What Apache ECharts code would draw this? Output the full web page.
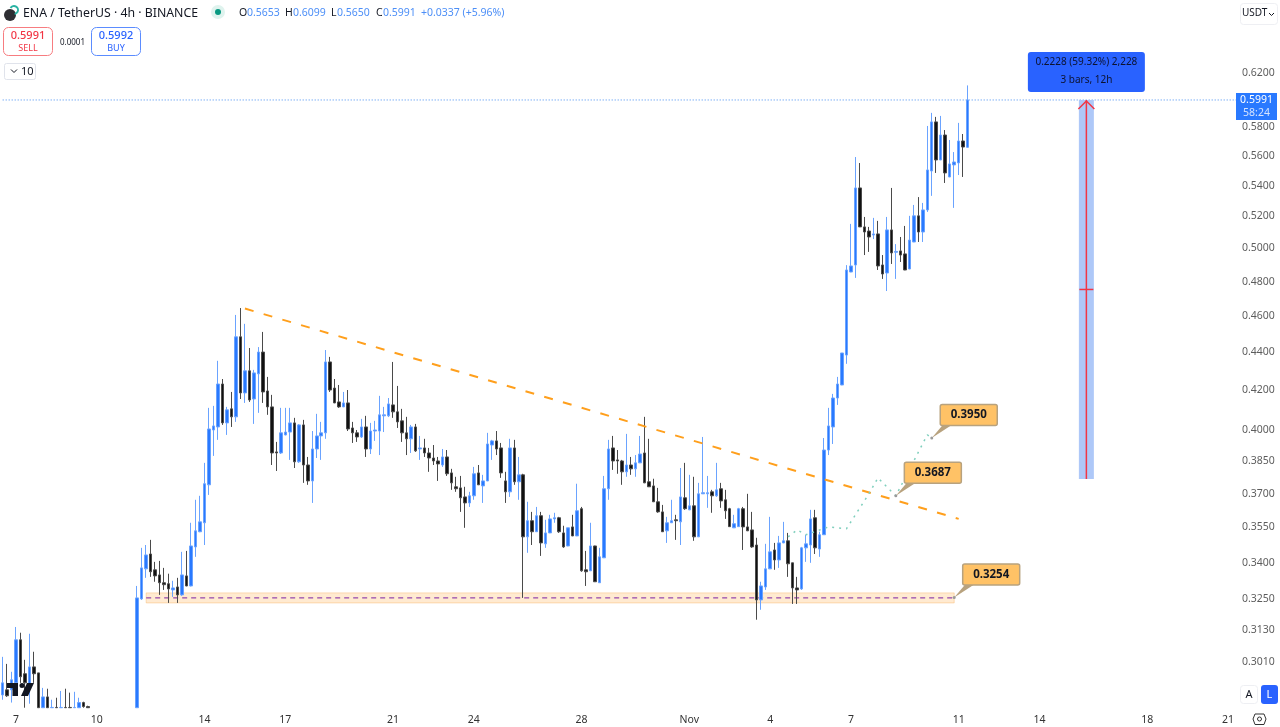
<!DOCTYPE html>
<html>
<head>
<meta charset="utf-8">
<style>html,body{margin:0;padding:0;background:#fff}#c{width:1280px;height:727px}</style>
<script src="https://cdn.jsdelivr.net/npm/echarts@6/dist/echarts.min.js"></script>
</head>
<body>
<div id="c"></div>
<script>
const opens = [
.2887,.2905,.2905,.2930,.3089,.2963,.2916,.2988,.2966,.2842,.2880,.2842,.2843,.2842,.2843,.2843,.2842,.2842,.2860,.2846,
null,null,null,null,null,null,null,null,null,null,
.2842,.3248,.3370,.3432,.3366,.3345,.3313,.3309,.3284,.3296,
.3264,.3341,.3300,.3462,.3527,.3566,.3736,.3996,.4011,.4228,
.4031,.4101,.4061,.4480,.4182,.4297,.4151,.4281,.4397,.4192,
.4111,.3890,.3885,.3972,.3986,.4031,.3843,.4021,.3828,.3754,
.3904,.3967,.3982,.4344,.4207,.4136,.4111,.4131,.4006,.3982,
.3962,.4011,.3904,.3991,.3991,.4066,.4066,.4121,.4086,.4041,
.3982,.3953,.4011,.3904,.3909,.3885,.3861,.3847,.3828,.3866,
.3791,.3727,.3722,.3681,.3654,.3686,.3791,.3731,.3754,.3923,
.3943,.3909,.3754,.3704,.3909,.3750,.3782,.3505,.3575,.3527,
.3597,.3475,.3522,.3583,.3588,.3522,.3466,.3548,.3509,.3628,
.3366,.3362,.3466,.3313,.3416,.3718,.3909,.3852,.3847,.3796,
.3828,.3810,.3838,.3885,.3750,.3731,.3659,.3614,.3531,.3566,
.3579,.3570,.3677,.3623,.3641,.3505,.3695,.3695,.3704,.3686,
.3718,.3668,.3628,.3544,.3549,.3628,.3548,.3535,.3470,.3244,
.3296,.3370,.3449,.3407,.3479,.3488,.3395,.3292,.3288,.3458,
.3470,.3588,.3453,.3514,.3899,.4011,.4156,.4223,.4381,.4851,
.4893,.5378,.5127,.5101,.5076,.5083,.4893,.4845,.5108,.4970,
.4978,.4960,.4869,.5033,.5197,.5095,.5235,.5491,.5832,.5566,
.5739,.5451,.5532,.5546,.5697,.5653];
const highs = [
.3025,.2999,.2970,.3138,.3116,.3014,.3112,.3044,.2966,.2912,.2909,.2870,.2877,.2901,.2909,.2895,.2898,.2877,.2863,.2849,
null,null,null,null,null,null,null,null,null,null,
.3300,.3458,.3470,.3492,.3399,.3403,.3374,.3350,.3321,.3333,
.3441,.3445,.3566,.3668,.3686,.3838,.4106,.4116,.4350,.4254,
.4111,.4187,.4602,.4641,.4552,.4419,.4302,.4424,.4507,.4265,
.4172,.3938,.4106,.4106,.4106,.4056,.4025,.4046,.3866,.3991,
.4076,.4036,.4408,.4371,.4254,.4223,.4187,.4197,.4036,.3996,
.4051,.4066,.4031,.4041,.4167,.4111,.4156,.4344,.4218,.4101,
.4061,.4021,.4026,.3967,.3953,.3909,.3923,.3866,.3904,.3899,
.3810,.3773,.3777,.3727,.3704,.3819,.3828,.3782,.3982,.3948,
.3991,.3933,.3796,.3953,.3948,.3866,.3787,.3659,.3614,.3636,
.3614,.3579,.3601,.3610,.3592,.3553,.3544,.3601,.3741,.3636,
.3445,.3566,.3467,.3458,.3777,.3948,.3967,.3899,.3852,.3977,
.3866,.3875,.3967,.4061,.3953,.3764,.3722,.3645,.3592,.3668,
.3601,.3814,.3838,.3782,.3773,.3745,.3962,.3777,.3713,.3838,
.3745,.3713,.3632,.3601,.3632,.3636,.3695,.3614,.3501,.3317,
.3475,.3592,.3479,.3509,.3570,.3522,.3395,.3337,.3462,.3514,
.3623,.3623,.3527,.3957,.4106,.4177,.4265,.4392,.4892,.5146,
.5586,.5545,.5190,.5127,.5184,.5165,.4953,.5190,.5378,.5020,
.5064,.5133,.5197,.5267,.5318,.5280,.5803,.5897,.5868,.5875,
.5774,.5704,.5620,.5825,.5746,.6099];
const lows = [
.2870,.2880,.2860,.2895,.2930,.2842,.2856,.2930,.2842,.2842,.2842,.2842,.2842,.2842,.2842,.2842,.2842,.2842,.2842,.2842,
null,null,null,null,null,null,null,null,null,null,
.2842,.3244,.3333,.3337,.3317,.3264,.3284,.3232,.3256,.3232,
.3260,.3299,.3298,.3420,.3525,.3470,.3690,.3871,.3948,.4021,
.3972,.4011,.4036,.4151,.4131,.4136,.4026,.4081,.4131,.4071,
.3828,.3800,.3880,.3970,.3852,.3814,.3838,.3745,.3736,.3654,
.3861,.3852,.3953,.4187,.4130,.4106,.4110,.3991,.3933,.3938,
.3957,.3866,.3880,.3943,.3875,.3986,.4060,.4056,.4006,.3938,
.3875,.3885,.3890,.3852,.3866,.3796,.3828,.3754,.3819,.3777,
.3713,.3704,.3614,.3544,.3636,.3668,.3735,.3654,.3753,.3852,
.3875,.3768,.3654,.3681,.3736,.3668,.3252,.3437,.3470,.3526,
.3424,.3458,.3521,.3566,.3522,.3458,.3465,.3508,.3508,.3358,
.3300,.3361,.3316,.3312,.3415,.3668,.3805,.3787,.3736,.3773,
.3782,.3773,.3837,.3744,.3726,.3658,.3610,.3526,.3479,.3565,
.3492,.3470,.3623,.3622,.3488,.3504,.3694,.3632,.3610,.3681,
.3632,.3583,.3548,.3543,.3548,.3449,.3530,.3458,.3166,.3205,
.3284,.3369,.3366,.3374,.3478,.3337,.3228,.3228,.3284,.3399,
.3395,.3432,.3420,.3513,.3875,.3928,.4121,.4222,.4334,.4850,
.4816,.5126,.4953,.4972,.5051,.4863,.4810,.4739,.4899,.4810,
.4911,.4862,.4868,.5032,.5033,.5033,.5222,.5326,.5478,.5565,
.5411,.5450,.5248,.5464,.5451,.5650];
const closes = [
.2930,.2884,.2941,.3089,.2952,.2930,.2988,.2963,.2842,.2880,.2842,.2843,.2842,.2843,.2842,.2842,.2843,.2860,.2846,.2842,
null,null,null,null,null,null,null,null,null,null,
.3252,.3374,.3428,.3358,.3341,.3313,.3305,.3288,.3292,.3264,
.3345,.3300,.3466,.3531,.3570,.3741,.4001,.4016,.4228,.4031,
.4096,.4061,.4480,.4182,.4297,.4146,.4286,.4397,.4187,.4111,
.3885,.3885,.3982,.3986,.4031,.3843,.4021,.3828,.3754,.3904,
.3967,.3982,.4344,.4197,.4131,.4111,.4131,.4001,.3982,.3962,
.4011,.3904,.3991,.3996,.4071,.4071,.4126,.4086,.4036,.3982,
.3953,.4011,.3895,.3909,.3885,.3861,.3847,.3833,.3866,.3787,
.3745,.3718,.3677,.3654,.3686,.3787,.3736,.3754,.3928,.3943,
.3904,.3791,.3704,.3909,.3750,.3782,.3505,.3575,.3527,.3597,
.3479,.3522,.3583,.3588,.3527,.3462,.3544,.3509,.3619,.3362,
.3358,.3466,.3317,.3420,.3718,.3904,.3847,.3847,.3796,.3828,
.3810,.3838,.3880,.3745,.3727,.3659,.3614,.3527,.3566,.3575,
.3575,.3681,.3628,.3641,.3505,.3695,.3700,.3700,.3686,.3713,
.3663,.3619,.3549,.3562,.3628,.3548,.3531,.3462,.3244,.3300,
.3370,.3441,.3407,.3479,.3488,.3391,.3292,.3284,.3458,.3475,
.3583,.3458,.3514,.3899,.4016,.4156,.4228,.4392,.4863,.4887,
.5378,.5127,.5095,.5064,.5083,.4887,.4839,.5108,.4966,.4975,
.4953,.4863,.5045,.5197,.5095,.5235,.5498,.5832,.5566,.5739,
.5478,.5539,.5552,.5697,.5655,.5991];

// x-axis: 4h bars, category index 3 = 7 Oct 00:00
const BAR_COUNT = 285;
const categories = [];
for (let k = 0; k < BAR_COUNT; k++) categories.push('bar ' + k);
const xTickBars   = [3, 21, 45, 63, 87, 105, 129, 153, 171, 189, 213, 231, 255, 273];
const xTickLabels = ['7','10','14','17','21','24','28','Nov','4','7','11','14','18','21'];
const priceTicks = [.62,.58,.56,.54,.52,.50,.48,.46,.44,.42,.40,.385,.37,.355,.34,.325,.313,.301];
const PRICE_MIN = 0.2841, PRICE_MAX = 0.6773;

// drawings on the chart
const lastPrice = 0.5991;
const trendBars = [54, 213],  trendPrices = [0.4638, 0.3583];
const supportBars = [32, 212], supportMid = 0.3252, supportTop = 0.3272, supportBottom = 0.3232;
const pathBars   = [175, 177, 179, 184, 188, 193, 195, 199, 206, 207];
const pathPrices = [.3505, .3535, .3514, .3548, .3540, .3695, .3768, .3686, .3972, .3957];
const calloutBars   = [207, 199, 212];
const calloutPrices = [.3957, .3686, .3254];
const calloutLabels = ['0.3950', '0.3687', '0.3254'];
const measureBar = 241, measureFrom = 0.3763, measureTo = 0.5991;
const measureLines = ['0.2228 (59.32%) 2,228', '3 bars, 12h'];

const FONT = '"Noto Sans", "Open Sans", sans-serif';
const BLUE = '#2979ff', BLACK = '#111111';

function txt(text, x, y, size, fill, extra) {
  return {type:'text', z:100, silent:true, style:Object.assign({text, x, y, fill,
    font: (extra && extra.weight ? extra.weight + ' ' : '') + size + 'px ' + FONT,
    align:(extra && extra.align) || 'left', verticalAlign:'middle'})};
}
function box(x, y, w, h, r, fill, stroke, lw) {
  return {type:'rect', z:99, silent:true, shape:{x, y, width:w, height:h, r},
    style:{fill, stroke, lineWidth:lw === undefined ? 1 : lw}};
}
function chev(x, y, w, h, col) {
  return {type:'polyline', z:100, silent:true, shape:{points:[[x,y],[x+w/2,y+h],[x+w,y]]}, style:{stroke:col, fill:'none', lineWidth:1}};
}
const OHLC = [['O',239,'0.5653',247],['H',285,'0.6099',293],['L',331,'0.5650',337],['C',376,'0.5991',383]];
const headerBlue = '#4d8ff7';
const graphics = [
  {type:'circle', z:99, silent:true, shape:{cx:10,cy:15,r:6}, style:{fill:'#2e2e33'}},
  {type:'arc', z:100, silent:true, shape:{cx:14,cy:10,r:4,startAngle:-2.6,endAngle:1.4}, style:{stroke:'#2bb3a3',lineWidth:2,fill:'none'}},
  txt('ENA / TetherUS · 4h · BINANCE', 23, 13, 12.3, '#131722'),
  {type:'circle', z:99, silent:true, shape:{cx:218,cy:12,r:7}, style:{fill:'#dff3ee'}},
  {type:'circle', z:100, silent:true, shape:{cx:218,cy:12,r:3}, style:{fill:'#089981'}},
  box(3.5,27.5,49,28,5,'#fff','#f77c80'),
  txt('0.5991', 28, 36, 11, '#f23645', {align:'center',weight:500}),
  txt('SELL', 28, 48.5, 9, '#f23645', {align:'center'}),
  txt('0.0001', 60, 42.5, 8, '#131722'),
  box(91.5,27.5,49,28,5,'#fff','#5b8cff'),
  txt('0.5992', 116, 36, 11, '#2962ff', {align:'center',weight:500}),
  txt('BUY', 116, 48.5, 9, '#2962ff', {align:'center'}),
  box(4.5,63.5,31,16,2,'#fff','#e0e3eb'),
  chev(11,69.5,6,3,'#131722'),
  txt('10', 21, 71.5, 11, '#131722'),
  box(1240.5,3.5,37,21,3,'#fff','#eeeff3'),
  txt('USDT', 1242, 13.5, 10, '#131722'),
  chev(1269,13,5,2.5,'#131722'),
  box(1240.5,685.5,17,18,3,'#fff','#eeeff3'),
  txt('A', 1249, 695, 11, '#131722', {align:'center'}),
  box(1261,685,17,19,3,'#2962ff','#2962ff',0),
  txt('L', 1269.5, 695, 11, '#ffffff', {align:'center'}),
  {type:'polygon', z:100, silent:true, shape:{points:[[1255,714],[1264,714],[1266,719],[1264,724.5],[1255,724.5],[1253,719]]}, style:{fill:'none',stroke:'#333',lineWidth:1}},
  {type:'circle', z:100, silent:true, shape:{cx:1259.5,cy:719,r:2}, style:{fill:'none',stroke:'#333',lineWidth:1}},
  // price tag
  box(1236,93,41,27,0,BLUE,BLUE,0),
  txt('0.5991', 1256.5, 100.5, 10.5, '#ffffff', {align:'center'}),
  txt('58:24', 1256.5, 113, 10.5, '#d6e4ff', {align:'center'}),
  // watermark
  {type:'polygon', z:100, silent:true, shape:{points:[[7,683],[18,683],[18,696],[12.5,696],[12.5,688],[7,688]]}, style:{fill:'#131722'}},
  {type:'circle', z:100, silent:true, shape:{cx:22,cy:685.5,r:2.5}, style:{fill:'#131722'}},
  {type:'polygon', z:100, silent:true, shape:{points:[[27,683],[34,683],[28,696],[21,696]]}, style:{fill:'#131722'}}
];
OHLC.forEach(function (o) {
  graphics.push(txt(o[0], o[1], 13, 10.5, '#131722'));
  graphics.push(txt(o[2], o[3], 13, 10.5, headerBlue));
});
graphics.push(txt('+0.0337 (+5.96%)', 421, 13, 10.5, headerBlue));

const candleData = opens.map(function (o, k) {
  return o === null ? ['-','-','-','-'] : [o, closes[k], lows[k], highs[k]];
});
function pairs(xs, ys) { return xs.map(function (x, k) { return [x, ys[k]]; }); }

const option = {
  animation:false,
  backgroundColor:'#ffffff',
  textStyle:{fontFamily:FONT},
  grid:{left:0.28, top:0, width:BAR_COUNT*4.489, height:708, containLabel:false},
  xAxis:{
    type:'category', data:categories, boundaryGap:true,
    axisLine:{show:false}, axisTick:{show:false}, splitLine:{show:false},
    axisLabel:{
      show:true, margin:7, color:'#333', fontSize:10.5, fontFamily:FONT,
      interval:function (idx) { return xTickBars.indexOf(idx) >= 0; },
      formatter:function (v, idx) { const k = xTickBars.indexOf(idx); return k >= 0 ? xTickLabels[k] : ''; }
    }
  },
  yAxis:{type:'log', logBase:10, min:PRICE_MIN, max:PRICE_MAX, show:false, splitLine:{show:false}},
  graphic:graphics,
  series:[
    {
      name:'support', type:'line', z:1, silent:true, showSymbol:false,
      data:[[supportBars[0],supportMid],[supportBars[1],supportMid]],
      lineStyle:{color:'#7b1fa2', width:1, type:[5,4]},
      markArea:{silent:true, itemStyle:{color:'rgba(255,180,90,0.28)', borderColor:'rgba(250,190,120,0.5)', borderWidth:1},
        data:[[{xAxis:supportBars[0], yAxis:supportTop},{xAxis:supportBars[1], yAxis:supportBottom}]]}
    },
    {
      name:'last', type:'line', z:1, silent:true, showSymbol:false,
      data:[[0,lastPrice],[275,lastPrice]],
      lineStyle:{color:'#7fb0f5', width:1, type:[1.5,1.5]}
    },
    {
      name:'ENA', type:'candlestick', z:2, data:candleData, barWidth:3, silent:true,
      itemStyle:{color:BLUE, color0:BLACK, borderColor:'#6aa3ff', borderColor0:'#4a4a4a', borderColorDoji:'#6aa3ff', borderWidth:1}
    },
    {
      name:'trend', type:'line', z:3, silent:true, showSymbol:false,
      data:pairs(trendBars, trendPrices),
      lineStyle:{color:'#ff9f1c', width:2, type:[9,10.5]}
    },
    {
      name:'path', type:'line', z:3, silent:true, showSymbol:false,
      data:pairs(pathBars, pathPrices),
      lineStyle:{color:'#7fcfbd', width:1.5, type:[2,5]}
    },
    {
      name:'callouts', type:'custom', z:4, silent:true, clip:false,
      data:pairs(calloutBars, calloutPrices),
      encode:{x:0,y:1},
      renderItem:function (params, api) {
        const p = api.coord([api.value(0), api.value(1)]);
        const x = p[0], y = p[1];
        return {type:'group', children:[
          {type:'polygon', shape:{points:[[x,y],[x+11,y-13],[x+20,y-13]]}, style:{fill:'#b8a27e'}},
          {type:'circle', shape:{cx:x,cy:y,r:1.5}, style:{fill:'#9a9a9a'}},
          {type:'rect', shape:{x:x+8.5,y:y-33.5,width:57,height:21,r:2}, style:{fill:'#ffc266',stroke:'#b8a27e',lineWidth:1.5}},
          {type:'text', style:{text:calloutLabels[params.dataIndex], x:x+37, y:y-23, fill:'#131722',
            font:'bold 11.5px '+FONT, align:'center', verticalAlign:'middle'}}
        ]};
      }
    },
    {
      name:'measure', type:'custom', z:4, silent:true, clip:false,
      data:[[measureBar, measureFrom, measureTo]],
      encode:{x:0,y:[1,2]},
      renderItem:function (params, api) {
        const a = api.coord([api.value(0), api.value(1)]);
        const b = api.coord([api.value(0), api.value(2)]);
        const x = a[0] + 2;
        const mid = api.coord([api.value(0), Math.sqrt(api.value(1)*api.value(2))]);
        const red = '#f23645';
        return {type:'group', children:[
          {type:'rect', shape:{x:x-7.5,y:b[1],width:15,height:a[1]-b[1]}, style:{fill:'#aec8f8'}},
          {type:'line', shape:{x1:x,y1:b[1],x2:x,y2:a[1]}, style:{stroke:red,lineWidth:1.5}},
          {type:'polyline', shape:{points:[[x-8,b[1]+9],[x,b[1]+1],[x+8,b[1]+9]]}, style:{stroke:red,lineWidth:1.5,fill:'none'}},
          {type:'line', shape:{x1:x-7,y1:mid[1],x2:x+7,y2:mid[1]}, style:{stroke:red,lineWidth:1.5}},
          {type:'rect', shape:{x:x-58.5,y:b[1]-48,width:117,height:40,r:3}, style:{fill:'#2962ff'}},
          {type:'text', style:{text:measureLines[0], x:x, y:b[1]-37.5, fill:'#0d1330', font:'10px '+FONT, align:'center', verticalAlign:'middle'}},
          {type:'text', style:{text:measureLines[1], x:x, y:b[1]-19.5, fill:'#0d1330', font:'10px '+FONT, align:'center', verticalAlign:'middle'}}
        ]};
      }
    },
    {
      name:'priceLabels', type:'scatter', z:3, silent:true, symbolSize:1, clip:false,
      itemStyle:{color:'rgba(255,255,255,0)'},
      data:priceTicks.map(function (v) { return [280, v]; }),
      label:{show:true, position:'inside', offset:[-1,1], color:'#333', fontSize:10.5, fontFamily:FONT,
        formatter:function (p) { return p.value[1].toFixed(4); }}
    }
  ]
};
echarts.init(document.getElementById('c'), null, {renderer:'canvas'}).setOption(option);
</script>
</body>
</html>
